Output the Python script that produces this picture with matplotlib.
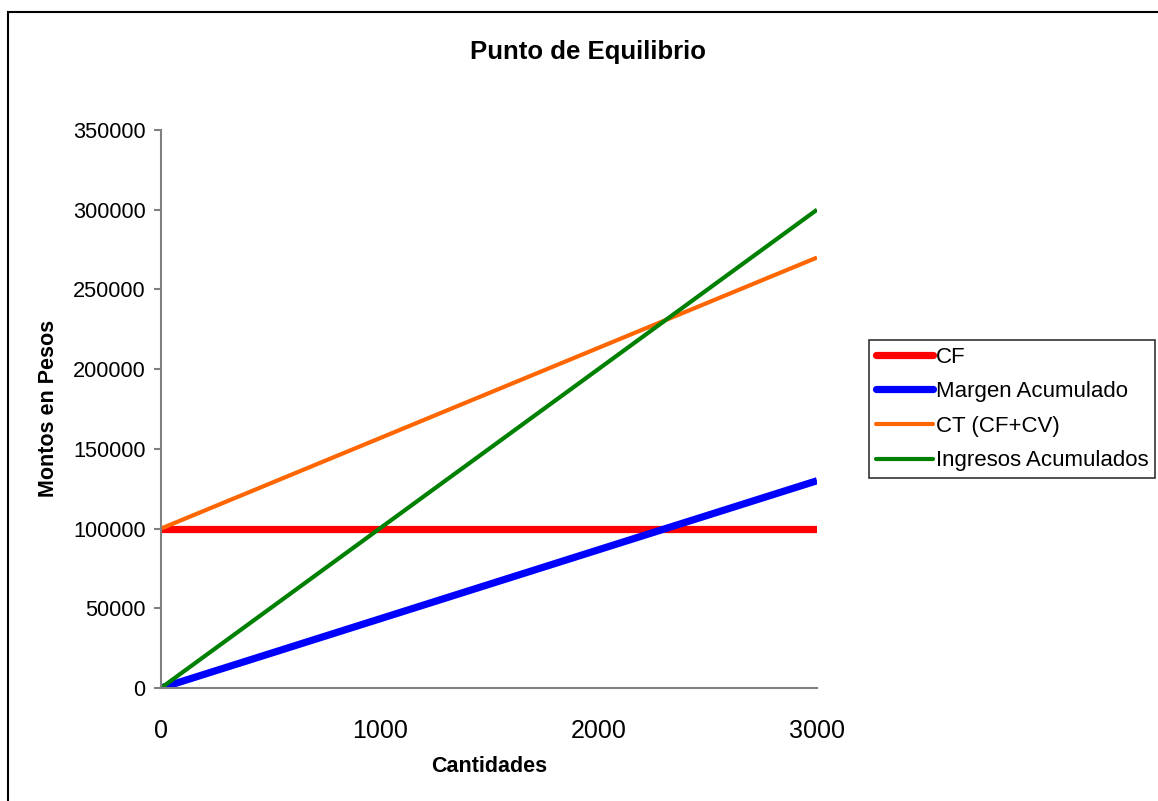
import matplotlib.pyplot as plt
from matplotlib.patches import Rectangle

plt.rcParams["font.family"] = ["Liberation Sans", "DejaVu Sans"]

# Break-even data (units sold vs. amounts in pesos)
cantidades = [0, 1000, 2000, 3000]
cf = [100000, 100000, 100000, 100000]
margen_acumulado = [0, 43333, 86667, 130000]
ct = [100000, 156667, 213333, 270000]
ingresos_acumulados = [0, 100000, 200000, 300000]

y_ticks = [0, 50000, 100000, 150000, 200000, 250000, 300000, 350000]
x_ticks = [0, 1000, 2000, 3000]

W, H = 1158, 801
fig = plt.figure(figsize=(W / 100, H / 100), dpi=100)
ax = fig.add_axes([161 / W, 1 - 688 / H, (817 - 161) / W, (688 - 130) / H])

ax.plot(cantidades, cf, color="#FF0000", lw=5.2, solid_capstyle="butt", label="CF")
ax.plot(cantidades, margen_acumulado, color="#0000FF", lw=5.2, solid_capstyle="butt",
        label="Margen Acumulado")
ax.plot(cantidades, ct, color="#FF6600", lw=3.0, solid_capstyle="butt", label="CT (CF+CV)")
ax.plot(cantidades, ingresos_acumulados, color="#008000", lw=3.0, solid_capstyle="butt",
        label="Ingresos Acumulados")

ax.set_xlim(0, 3000)
ax.set_ylim(0, 350000)
ax.set_xticks(x_ticks)
ax.set_yticks(y_ticks)
ax.set_yticklabels([str(v) for v in y_ticks], fontsize=15.7)
ax.set_xticklabels([str(v) for v in x_ticks], fontsize=18)

for side in ("top", "right"):
    ax.spines[side].set_visible(False)
for side in ("left", "bottom"):
    ax.spines[side].set_color("#808080")
    ax.spines[side].set_linewidth(1.5)

ax.tick_params(axis="y", direction="out", length=5, width=1.5, color="#808080", pad=6)
ax.tick_params(axis="x", length=0, pad=22)

# y-axis line continues a little below the origin
ax.plot([0, 0], [0, -9 / (688 - 130)], transform=ax.get_yaxis_transform(),
        color="#808080", lw=1.5, clip_on=False)

fig.text(588 / W, 1 - 52 / H, "Punto de Equilibrio", ha="center", va="center",
         fontsize=18.5, fontweight="bold")
fig.text(489 / W, 1 - 766 / H, "Cantidades", ha="center", va="center",
         fontsize=15.5, fontweight="bold")
fig.text(49 / W, 1 - 408 / H, "Montos en Pesos", ha="center", va="center",
         rotation=90, fontsize=15.5, fontweight="bold")

leg = fig.legend(loc="center left", bbox_to_anchor=(869 / W, 1 - 409 / H),
                 fontsize=16, frameon=True, fancybox=False, handlelength=2.6,
                 handletextpad=0.1, labelspacing=0.61, borderpad=0.3,
                 borderaxespad=0)
leg.get_frame().set_edgecolor("#000000")
leg.get_frame().set_linewidth(1.2)
for line in leg.get_lines():
    line.set_solid_capstyle("round")

# outer chart border
fig.patches.append(Rectangle((8 / W, -0.1), 1.2, 1 - 12 / H + 0.1, transform=fig.transFigure,
                             fill=False, edgecolor="#000000", lw=1.5))

fig.savefig("out.png", dpi=100)
